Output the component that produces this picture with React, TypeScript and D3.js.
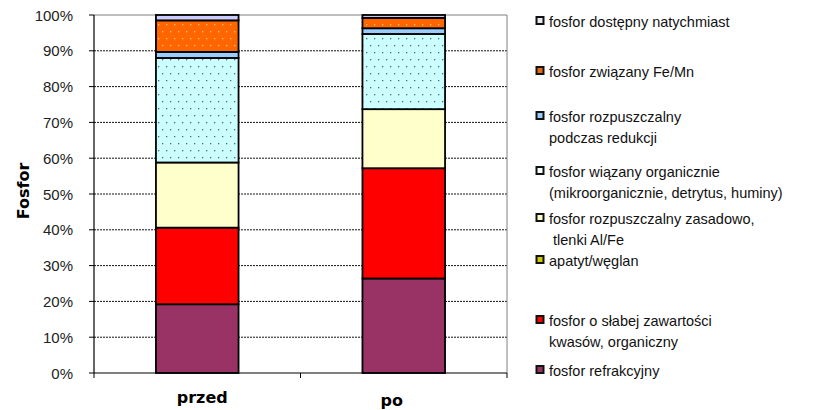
import React from "react";
import * as d3 from "d3";

const categories = ["przed", "po"];
const seriesNames = [
  "fosfor refrakcyjny",
  "fosfor o słabej zawartości kwasów, organiczny",
  "apatyt/węglan",
  "fosfor rozpuszczalny zasadowo, tlenki Al/Fe",
  "fosfor wiązany organicznie (mikroorganicznie, detrytus, huminy)",
  "fosfor rozpuszczalny podczas redukcji",
  "fosfor związany Fe/Mn",
  "fosfor dostępny natychmiast",
];
const refrakcyjny = [19.2, 26.4];
const slabej = [21.4, 30.8];
const apatyt = [0, 0];
const zasadowo = [18.2, 16.5];
const organicznie = [29.2, 21.0];
const redukcji = [1.7, 1.6];
const feMn = [8.8, 2.9];
const dostepny = [1.5, 0.8];
const seriesValues = [refrakcyjny, slabej, apatyt, zasadowo, organicznie, redukcji, feMn, dostepny];
const yTicks = [0, 10, 20, 30, 40, 50, 60, 70, 80, 90, 100];
const legendLines = [
  ["fosfor dostępny natychmiast"],
  ["fosfor związany Fe/Mn"],
  ["fosfor rozpuszczalny", "podczas redukcji"],
  ["fosfor wiązany organicznie", "(mikroorganicznie, detrytus, huminy)"],
  ["fosfor rozpuszczalny zasadowo,", " tlenki Al/Fe"],
  ["apatyt/węglan"],
  ["fosfor o słabej zawartości", "kwasów, organiczny"],
  ["fosfor refrakcyjny"],
];
const yTitle = "Fosfor";

// styles (bottom-to-top series order)
const fills = ["#993366", "#FF0000", "#CCCC00", "#FFFFCC", "url(#dotsCyan)", "#99CCFF", "url(#dotsOrange)", "#CCCCFF"];
const swatchFills = ["#993366", "#FF0000", "#CCCC00", "#FFFFCC", "#F4FFFF", "#99CCFF", "#E86A10", "#E8E8F0"];
const legendBaselines = [27, 77, 122, 177, 224, 266, 326, 376];
const catLabelDx = [5, -12];
const catLabelY = [402.5, 406];

export default function App() {
  const W = 816, H = 410;
  const left = 94, right = 507, top = 15, bottom = 373;
  const x = d3.scaleBand<string>().domain(categories).range([left, right]).paddingInner(0).paddingOuter(0);
  const y = d3.scaleLinear().domain([0, 100]).range([bottom, top]);
  const barW = x.bandwidth() * 0.4;

  const rows = categories.map((c, i) => {
    const r: any = { cat: c };
    seriesNames.forEach((s, j) => (r[s] = seriesValues[j][i]));
    return r;
  });
  const stacked = d3.stack<any>().keys(seriesNames)(rows);

  const font = "'Liberation Sans', Arial, sans-serif";
  const boldFont = "'DejaVu Sans', Verdana, sans-serif";

  return (
    <svg width={W} height={H} style={{ position: "absolute", left: 0, top: 0, background: "#fff" }}>
      <defs>
        <pattern id="dotsCyan" width={8} height={14} patternUnits="userSpaceOnUse">
          <rect width={8} height={14} fill="#CCFFFF" />
          <rect x={2} y={3} width={1.3} height={1.3} fill="#4a6a78" />
          <rect x={6} y={10} width={1.3} height={1.3} fill="#4a6a78" />
        </pattern>
        <pattern id="dotsOrange" width={8} height={14} patternUnits="userSpaceOnUse">
          <rect width={8} height={14} fill="#FF6600" />
          <rect x={2} y={3} width={1.3} height={1.3} fill="#FFC080" />
          <rect x={6} y={10} width={1.3} height={1.3} fill="#FFC080" />
        </pattern>
      </defs>
      <rect width={W} height={H} fill="#fff" />

      {/* gridlines */}
      {yTicks.filter((t) => t > 0 && t < 100).map((t) => (
        <line key={t} x1={left} x2={right} y1={y(t)} y2={y(t)} stroke="#111" strokeWidth={1} strokeDasharray="2,1" />
      ))}
      {/* plot frame */}
      <line x1={left} x2={right} y1={top} y2={top} stroke="#808080" strokeWidth={1} />
      <line x1={right} x2={right} y1={top} y2={bottom} stroke="#808080" strokeWidth={1} />

      {/* bars */}
      {stacked.map((layer, si) =>
        layer.map((d, ci) => {
          const h = y(d[0]) - y(d[1]);
          if (h <= 0) return null;
          const cx = (x(categories[ci]) as number) + x.bandwidth() / 2;
          return (
            <rect key={si + "-" + ci} x={cx - barW / 2} y={y(d[1])} width={barW} height={h}
              fill={fills[si]} stroke="#000" strokeWidth={1.8} />
          );
        })
      )}

      {/* y axis */}
      <line x1={left} x2={left} y1={top} y2={bottom} stroke="#000" strokeWidth={1.2} />
      {yTicks.map((t) => (
        <g key={t}>
          <line x1={left - 5} x2={left} y1={y(t)} y2={y(t)} stroke="#000" strokeWidth={1} />
          <text x={73} y={y(t) + 5.5} textAnchor="end" fontFamily={font} fontSize={15} fill="#222">{t}%</text>
        </g>
      ))}
      {/* x axis */}
      <line x1={left} x2={right} y1={bottom} y2={bottom} stroke="#000" strokeWidth={1.2} />
      {[left, (x("po") as number), right].map((tx, i) => (
        <line key={i} x1={tx} x2={tx} y1={bottom} y2={bottom + 5} stroke="#000" strokeWidth={1} />
      ))}
      {categories.map((c, i) => (
        <text key={c} x={(x(c) as number) + x.bandwidth() / 2 + catLabelDx[i]} y={catLabelY[i]} textAnchor="middle"
          fontFamily={boldFont} fontWeight="bold" fontSize={16} fill="#000">{c}</text>
      ))}
      <text transform={`translate(28.5,191) rotate(-90)`} textAnchor="middle" fontFamily={boldFont} fontWeight="bold" fontSize={16} fill="#000">{yTitle}</text>

      {/* legend */}
      {legendLines.map((lines, i) => {
        const sIdx = seriesNames.length - 1 - i;
        const b = legendBaselines[i];
        return (
          <g key={i}>
            <rect x={535.5} y={b - 11} width={9} height={9} fill="#111" />
            <rect x={537.5} y={b - 9} width={5} height={5} fill={swatchFills[sIdx]} />
            {lines.map((ln, k) => (
              <text key={k} x={549} y={b + k * 20.5} fontFamily={font} fontSize={14.5} fill="#111" style={{ whiteSpace: "pre" }}>{ln}</text>
            ))}
          </g>
        );
      })}
    </svg>
  );
}
